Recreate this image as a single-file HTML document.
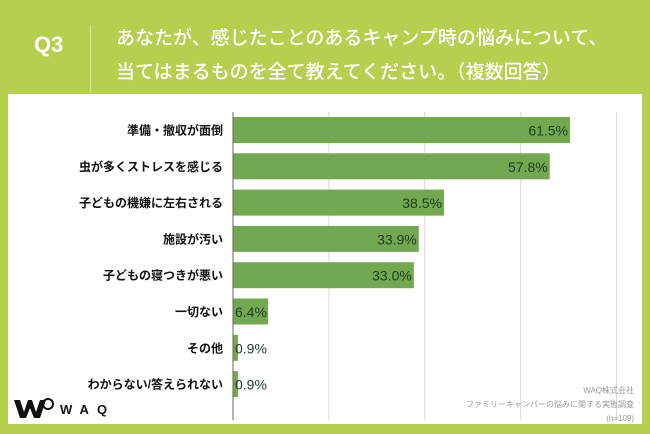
<!DOCTYPE html>
<html><head><meta charset="utf-8"><style>
html,body{margin:0;padding:0;}
body{width:650px;height:434px;background:#b5cf4f;position:relative;overflow:hidden;font-family:"Liberation Sans","Noto Sans CJK JP",sans-serif;}
.q{position:absolute;left:34px;top:32px;color:#fff;font-size:22px;font-weight:bold;}
.sep{position:absolute;left:90px;top:25px;width:1px;height:68px;background:#d8e6a0;}
.title{position:absolute;left:116px;top:20px;color:#fff;font-size:19px;line-height:34px;font-weight:500;font-family:"Noto Sans CJK JP",sans-serif;}
.panel{position:absolute;left:8px;top:94px;width:634px;height:330px;background:#fff;}
</style></head><body>
<div class="q">Q3</div>
<div class="sep"></div>
<div class="title">あなたが、感じたことのあるキャンプ時の悩みについて、<br>当てはまるものを全て教えてください。（複数回答）</div>
<div class="panel"></div>
<svg id="chart" width="650" height="434" style="position:absolute;left:0;top:0"></svg>
<script>
const categories=["準備・撤収が面倒","虫が多くストレスを感じる","子どもの機嫌に左右される","施設が汚い","子どもの寝つきが悪い","一切ない","その他","わからない/答えられない"];
const values=[61.5,57.8,38.5,33.9,33.0,6.4,0.9,0.9];
const valueLabels=["61.5%","57.8%","38.5%","33.9%","33.0%","6.4%","0.9%","0.9%"];
const gridTicks=[17.5,35,52.5,70];
const NS="http://www.w3.org/2000/svg";
const svg=document.getElementById('chart');
const x0=233,pxPer=5.48,y0=130,step=36.3,bh=26;
const xs=v=>x0+v*pxPer, ys=i=>y0+i*step;
function mk(t,a){const e=document.createElementNS(NS,t);for(const k in a)e.setAttribute(k,a[k]);svg.appendChild(e);return e;}
gridTicks.forEach((t,i)=>{const g=mk('line',{x1:xs(t),x2:xs(t),y1:112,y2:420,stroke:'#d9d9d9','stroke-width':1});

});
categories.forEach((c,i)=>{
const cy=ys(i);
const r=mk('rect',{x:x0,y:cy-bh/2,width:values[i]*pxPer,height:bh,fill:'#72a84f'});


const l=mk('text',{x:223,y:cy+4.5,'text-anchor':'end','font-size':12,'font-weight':'bold',fill:'#111'});
l.textContent=c;


const big=values[i]>20;
const v=mk('text',{x:big?xs(values[i])-2:x0+2,y:cy+5.5,'text-anchor':big?'end':'start','font-size':14,fill:'#1e3b24'});
v.textContent=valueLabels[i];


});
const ax=mk('line',{x1:x0,x2:x0,y1:112,y2:420,stroke:'#666','stroke-width':1});


</script>
<div style="position:absolute;right:16px;top:384px;text-align:right;font-size:8px;line-height:14px;color:#999;">WAQ株式会社<br>ファミリーキャンパーの悩みに関する実態調査<br>(n=109)</div>
<div style="position:absolute;left:14px;top:398px;">
<svg width="40" height="22"><polygon points="0,2 6,2 10,14 14,2 18,2 22,14 26,2 32,2 26,20 20,20 16,10 12,20 6,20" fill="#111"/><circle cx="34" cy="6" r="5" fill="none" stroke="#111" stroke-width="2"/></svg>
<span style="position:absolute;left:46px;top:4px;font-size:13px;font-weight:bold;letter-spacing:8px;color:#111;">WAQ</span></div>
</body></html>
